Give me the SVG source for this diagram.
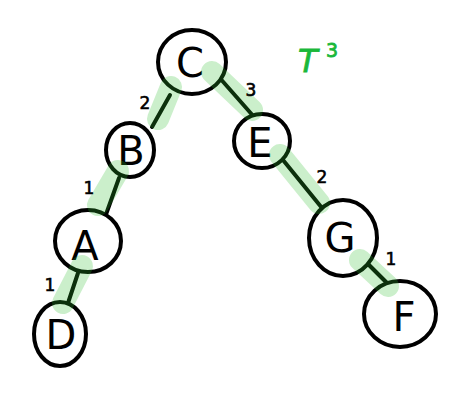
<svg xmlns="http://www.w3.org/2000/svg" width="471" height="412" viewBox="0 0 471 412">
<style>
.n{fill:#fff;stroke:#000;stroke-width:4}
.l{font-family:"DejaVu Sans","Liberation Sans",sans-serif;font-size:40px;fill:#000;text-anchor:middle}
.w{font-family:"DejaVu Sans","Liberation Sans",sans-serif;font-size:17px;fill:#000;stroke:#000;stroke-width:0.6;text-anchor:middle}
.e{stroke:#000;stroke-width:4;stroke-linecap:round;fill:none}
.h{stroke:#30c030;stroke-opacity:0.25;stroke-width:22;stroke-linecap:round;fill:none}
</style>
<rect width="471" height="412" fill="#fff"/>
<g id="connectors">
<line class="e" x1="170" y1="95" x2="152" y2="127"/>
<line class="e" x1="119" y1="178" x2="104" y2="220"/>
<line class="e" x1="78" y1="273" x2="68" y2="303"/>
<line class="e" x1="218" y1="76" x2="255" y2="118"/>
<line class="e" x1="283" y1="160" x2="322" y2="208"/>
<line class="e" x1="367" y1="263" x2="387" y2="283"/>
</g>
<g id="node-C"><ellipse class="n" cx="192" cy="62" rx="34" ry="32"/><text class="l" x="190" y="77">C</text></g>
<g id="node-B"><ellipse class="n" cx="130" cy="150" rx="24" ry="27"/><text class="l" x="131" y="165">B</text></g>
<g id="node-A"><ellipse class="n" cx="88" cy="241" rx="33" ry="31"/><text class="l" x="85" y="260">A</text></g>
<g id="node-D"><ellipse class="n" cx="60" cy="334" rx="26" ry="32"/><text class="l" x="61" y="349">D</text></g>
<g id="node-E"><ellipse class="n" cx="262" cy="141" rx="28" ry="27"/><text class="l" x="260" y="157">E</text></g>
<g id="node-G"><ellipse class="n" cx="343" cy="238" rx="34" ry="38"/><text class="l" x="340" y="252">G</text></g>
<g id="node-F"><ellipse class="n" cx="400" cy="314" rx="36" ry="33"/><text class="l" x="404" y="331">F</text></g>
<g id="highlights">
<line class="h" x1="171" y1="87" x2="158" y2="119"/>
<line class="h" x1="118" y1="171" x2="98" y2="205"/>
<line class="h" x1="82" y1="266" x2="63" y2="303"/>
<line class="h" x1="212" y1="72" x2="252" y2="110"/>
<line class="h" x1="280" y1="155" x2="319" y2="203"/>
<line class="h" x1="360" y1="260" x2="388" y2="286"/>
</g>
<g id="weights">
<text class="w" x="145" y="109">2</text>
<text class="w" x="251" y="96">3</text>
<text class="w" x="89" y="194">1</text>
<text class="w" x="50" y="291">1</text>
<text class="w" x="322" y="183">2</text>
<text class="w" x="391" y="265">1</text>
</g>
<g id="title" font-family="DejaVu Sans,Liberation Sans,sans-serif" fill="#1ab83a" stroke="#1ab83a" stroke-width="0.8">
<text x="298" y="72" font-size="32" font-style="italic">T</text>
<text x="326" y="57" font-size="19">3</text>
</g>
</svg>
